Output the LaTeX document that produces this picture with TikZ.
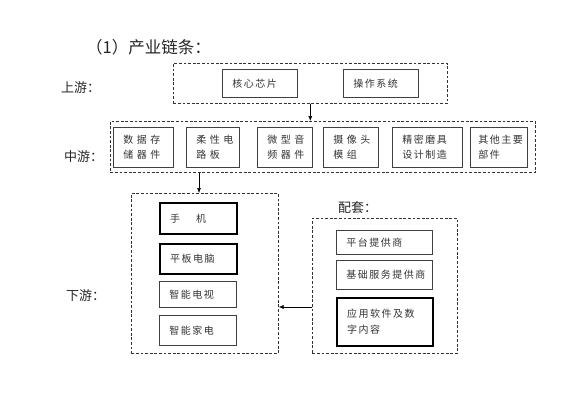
\documentclass[tikz,border=0pt]{standalone}
\usepackage{fontspec}
\setmainfont{Noto Sans CJK SC}
\newfontfamily\cjk{Noto Sans CJK SC}
\newfontfamily\cjkls[LetterSpace=15]{Noto Sans CJK SC}
\newfontfamily\cjkwide[LetterSpace=35]{Noto Sans CJK SC}
\usetikzlibrary{arrows.meta}
\begin{document}
\begin{tikzpicture}[x=1pt,y=-1pt,
  grp/.style={draw=black!80, dash pattern=on 2.8pt off 1.8pt, line width=0.6pt, anchor=north west, inner sep=0pt},
  item/.style={draw=black!75, line width=0.6pt, anchor=north west, inner xsep=10pt, inner ysep=0pt, align=left, text=black!80, font=\cjkls\fontsize{10}{14}\selectfont},
  thickitem/.style={item, draw=black, line width=2.2pt},
  miditem/.style={item, font=\cjkwide\fontsize{10}{15}\selectfont, minimum height=40pt},
  miditemn/.style={item, font=\cjkls\fontsize{10}{15}\selectfont, minimum height=40pt},
  lbl/.style={anchor=west, inner sep=0pt, text=black!85, font=\cjk\fontsize{13}{15}\selectfont},
  arr/.style={-{Latex[length=5pt,width=4pt]}, line width=0.6pt, draw=black}]
\useasboundingbox[fill=white] (0,0) rectangle (579,415);

\node[lbl, font=\cjk\fontsize{16.5}{18}\selectfont] (title) at (86,47) {（1）产业链条：};
\node[lbl] (lup) at (61,88) {上游：};
\node[lbl] (lmid) at (64,157) {中游：};
\node[lbl] (ldown) at (66,296) {下游：};
\node[lbl] (lpt) at (338,208) {配套：};

% groups
\node[grp, minimum width=274pt, minimum height=40pt] (up) at (173,63) {};
\node[grp, minimum width=425pt, minimum height=51pt] (mid) at (110,121) {};
\node[grp, minimum width=147pt, minimum height=160pt] (down) at (131,193) {};
\node[grp, minimum width=145pt, minimum height=135pt] (pt) at (312,218) {};

% upstream
\node[item, text width=55pt, minimum height=28pt] (u1) at (222,69) {核心芯片};
\node[item, text width=55pt, minimum height=28pt] (u2) at (343,69) {操作系统};

% midstream
\node[miditem, text width=40pt] (m1) at (113,127) {数据存\\储器件};
\node[miditem, text width=33pt] (m2) at (186,127) {柔性电\\路板};
\node[miditem, text width=35pt] (m3) at (257,127) {微型音\\频器件};
\node[miditem, text width=35pt] (m4) at (323,127) {摄像头\\模组};
\node[miditemn, text width=50pt] (m5) at (392,127) {精密磨具\\设计制造};
\node[miditemn, text width=41pt, inner xsep=8pt] (m6) at (470,127) {其他主要\\部件};

% downstream
\node[thickitem, text width=57pt, minimum height=31pt] (d1) at (159,202) {手\hspace{1.6em}机};
\node[thickitem, text width=57pt, minimum height=30pt] (d2) at (159,243) {平板电脑};
\node[item, text width=57pt, minimum height=26pt] (d3) at (159,281) {智能电视};
\node[item, text width=57pt, minimum height=30pt] (d4) at (159,315) {智能家电};

% supporting
\node[item, text width=76pt, minimum height=24pt] (p1) at (336,230) {平台提供商};
\node[item, text width=76pt, minimum height=29pt] (p2) at (336,260) {基础服务提供商};
\node[thickitem, text width=76pt, minimum height=48pt, font=\cjkls\fontsize{10}{16}\selectfont] (p3) at (336,297) {应用软件及数\\字内容};

% connectors
\coordinate (c1) at (199,0);
\coordinate (c2) at (0,307);
\draw[arr] (up.south) -- (up.south |- mid.north);
\draw[arr] (mid.south -| c1) -- (down.north -| c1);
\draw[arr] (pt.west |- c2) -- (down.east |- c2);
\end{tikzpicture}
\end{document}
